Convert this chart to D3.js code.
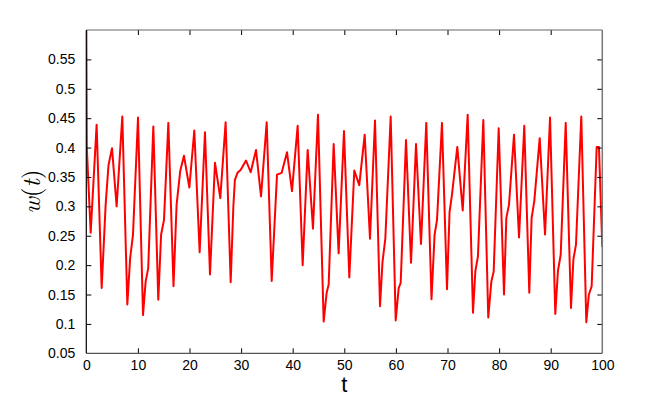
<!DOCTYPE html>
<meta charset="utf-8">
<title>w(t)</title>
<style>
body { margin: 0; background: #fff; }
text { font-family: "Liberation Sans", Arial, Helvetica, sans-serif; }
</style>
<body>
<script src="https://d3js.org/d3.v7.min.js"></script>
<script>

var width = 664,
    height = 401;

// time samples and w(t) values
var tData = [0, 0.1, 0.85, 2.0, 2.98, 3.75, 4.3, 4.98, 5.88, 6.98,
  7.95, 8.5, 9.05, 10.02, 10.99, 11.5, 12.0, 12.99, 13.95, 14.5,
  15.06, 15.9, 16.9, 17.5, 18.2, 18.93, 19.97, 20.93, 21.97, 23.0,
  23.97, 24.94, 25.97, 27.0, 27.98, 28.5, 28.8, 29.3, 29.9, 30.95,
  31.86, 32.89, 33.86, 34.96, 35.93, 36.96, 37.86, 38.9, 39.86, 40.96,
  41.93, 42.9, 43.93, 44.9, 46.0, 46.58, 46.97, 47.94, 48.9, 49.94,
  50.97, 51.94, 52.9, 53.95, 54.98, 55.95, 56.92, 57.4, 57.95, 58.99,
  59.96, 60.54, 60.93, 61.96, 62.93, 63.9, 64.86, 65.89, 66.9, 67.5,
  67.97, 68.93, 69.9, 70.4, 70.87, 71.9, 72.95, 73.91, 74.94, 75.4,
  75.9, 76.94, 77.9, 78.5, 78.95, 79.92, 80.95, 81.4, 81.92, 82.89,
  83.86, 84.88, 85.85, 86.3, 86.82, 87.87, 88.9, 89.87, 90.89, 91.4,
  91.94, 92.91, 93.93, 94.4, 94.9, 95.93, 96.9, 97.4, 97.94, 98.91,
  99.35, 100];
var wData = [0.62, 0.40, 0.255, 0.439, 0.161, 0.303, 0.37, 0.399, 0.30, 0.453,
  0.133, 0.212, 0.252, 0.451, 0.115, 0.172, 0.195, 0.436, 0.141, 0.252,
  0.277, 0.442, 0.164, 0.303, 0.36, 0.386, 0.332, 0.429, 0.222, 0.426,
  0.184, 0.374, 0.314, 0.443, 0.171, 0.30, 0.345, 0.357, 0.362, 0.378,
  0.358, 0.396, 0.317, 0.443, 0.173, 0.354, 0.357, 0.392, 0.326, 0.437,
  0.200, 0.396, 0.262, 0.456, 0.104, 0.153, 0.167, 0.406, 0.22, 0.428,
  0.179, 0.361, 0.336, 0.422, 0.245, 0.446, 0.13, 0.205, 0.245, 0.453,
  0.106, 0.161, 0.170, 0.413, 0.204, 0.406, 0.236, 0.442, 0.142, 0.252,
  0.277, 0.442, 0.159, 0.29, 0.32, 0.401, 0.293, 0.456, 0.119, 0.19,
  0.215, 0.447, 0.111, 0.172, 0.189, 0.433, 0.150, 0.28, 0.303, 0.422,
  0.247, 0.437, 0.153, 0.28, 0.309, 0.416, 0.252, 0.451, 0.117, 0.19,
  0.218, 0.442, 0.127, 0.21, 0.235, 0.453, 0.103, 0.15, 0.164, 0.401,
  0.401, 0.231];

var xTicks = [0, 10, 20, 30, 40, 50, 60, 70, 80, 90, 100];
var yTicks = [0.05, 0.1, 0.15, 0.2, 0.25, 0.3, 0.35, 0.4, 0.45, 0.5, 0.55];

var boxL = 86.3, boxR = 602.3, boxT = 30, boxB = 353.3;

var x = d3.scaleLinear().domain([0, 100]).range([boxL, boxR]);
var y = d3.scaleLinear().domain([0.05, 0.6]).range([boxB, boxT]);

var svg = d3.select("body").append("svg")
    .attr("width", width)
    .attr("height", height);

svg.append("defs").append("clipPath").attr("id", "box")
  .append("rect")
    .attr("x", boxL).attr("y", boxT)
    .attr("width", boxR - boxL).attr("height", boxB - boxT);

// the curve
var pts = tData.map(function(t, i) { return [t, wData[i]]; });
var line = d3.line()
    .x(function(d) { return x(d[0]); })
    .y(function(d) { return y(d[1]); });

svg.append("path")
    .datum(pts)
    .attr("clip-path", "url(#box)")
    .attr("fill", "none")
    .attr("stroke", "#ff0000")
    .attr("stroke-width", 2)
    .attr("stroke-linejoin", "round")
    .attr("d", line);

// axes, ticks inward like matlab
var tl = -5;
var bottomAxis = d3.axisBottom(x).tickValues(xTicks).tickSizeInner(tl).tickSizeOuter(0).tickPadding(10);
var topAxis = d3.axisTop(x).tickValues(xTicks).tickSizeInner(tl).tickSizeOuter(0).tickFormat("");
var leftAxis = d3.axisLeft(y).tickValues(yTicks).tickSizeInner(tl).tickSizeOuter(0).tickPadding(11)
    .tickFormat(function(d) { return String(+d.toFixed(2)); });
var rightAxis = d3.axisRight(y).tickValues(yTicks).tickSizeInner(tl).tickSizeOuter(0).tickFormat("");

var gb = svg.append("g").attr("transform", "translate(0," + boxB + ")").call(bottomAxis);
var gt = svg.append("g").attr("transform", "translate(0," + boxT + ")").call(topAxis);
var gl = svg.append("g").attr("transform", "translate(" + boxL + ",0)").call(leftAxis);
var gr = svg.append("g").attr("transform", "translate(" + boxR + ",0)").call(rightAxis);

[gb, gt, gl, gr].forEach(function(g) {
  g.selectAll("text").attr("font-size", 14).attr("fill", "#000")
    .style("font-family", "'Liberation Sans', Arial, sans-serif");
  g.selectAll(".tick line").attr("stroke", "#000");
  g.select(".domain").remove();
});
// drop end ticks that sit on the box edges
gb.selectAll(".tick line").filter(function(d) { return d == 0 || d == 100; }).remove();
gt.selectAll(".tick line").filter(function(d) { return d == 0 || d == 100; }).remove();
gl.selectAll(".tick line").filter(function(d) { return d == 0.05; }).remove();
gr.selectAll(".tick line").filter(function(d) { return d == 0.05; }).remove();
gb.selectAll("text").attr("dy", "0.5em");

// box
svg.append("line").attr("x1", boxL).attr("x2", boxR).attr("y1", boxT).attr("y2", boxT)
    .attr("stroke", "#666").attr("stroke-width", 1.2);
svg.append("line").attr("x1", boxR).attr("x2", boxR).attr("y1", boxT).attr("y2", boxB)
    .attr("stroke", "#777").attr("stroke-width", 1.5);
svg.append("line").attr("x1", boxL).attr("x2", boxR).attr("y1", boxB).attr("y2", boxB)
    .attr("stroke", "#555").attr("stroke-width", 1.3);
svg.append("line").attr("x1", boxL).attr("x2", boxL).attr("y1", boxT).attr("y2", boxB)
    .attr("stroke", "#000").attr("stroke-width", 1.2);

// labels
svg.append("text")
    .attr("x", (boxL + boxR) / 2)
    .attr("y", 392)
    .attr("text-anchor", "middle")
    .attr("font-size", 22)
    .text("t");

var yl = svg.append("text")
    .attr("transform", "translate(40," + ((boxT + boxB) / 2) + ") rotate(-90)")
    .attr("text-anchor", "middle")
    .attr("font-size", 25)
    .style("font-family", "'Latin Modern Roman', 'DejaVu Serif', 'Liberation Serif', serif");
yl.append("tspan").attr("font-style", "italic").text("w");
yl.append("tspan").text("(");
yl.append("tspan").attr("font-style", "italic").text("t");
yl.append("tspan").text(")");

</script>
